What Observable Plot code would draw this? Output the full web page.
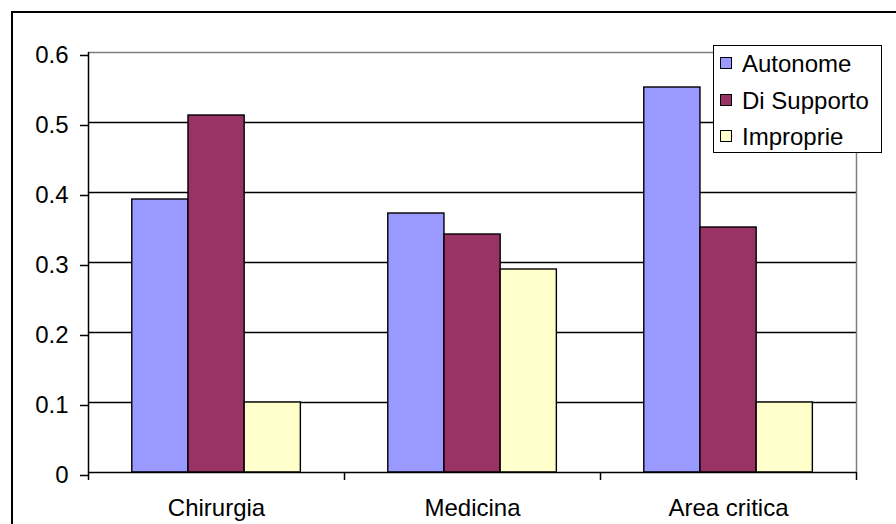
<!DOCTYPE html>
<html>
<head>
<meta charset="utf-8">
<script src="https://cdn.jsdelivr.net/npm/d3@7"></script>
<script src="https://cdn.jsdelivr.net/npm/@observablehq/plot@0.6"></script>
<style>
  html, body { margin: 0; padding: 0; background: #fff; }
  #chart {
    position: relative; width: 896px; height: 524px; overflow: hidden;
    font-family: "Liberation Sans", Arial, sans-serif; background: #fff;
  }
  #frame {
    position: absolute; left: 11px; top: 11px; width: 920px; height: 600px;
    border: 2px solid #000; box-sizing: border-box; pointer-events: none;
  }
  #plot { position: absolute; left: 0; top: 0; }
  #legend {
    position: absolute; left: 713px; top: 45px; width: 169px; height: 108px;
    border: 1.5px solid #000; background: #fff; box-sizing: border-box;
  }
  .item { position: absolute; left: 6px; height: 30px; display: flex; align-items: center; font-size: 24px; color: #000; }
  .swatch { width: 12px; height: 12px; border: 1.5px solid #000; box-sizing: border-box; margin-right: 10px; margin-top: -2px; }
</style>
</head>
<body>
<div id="chart">
  <div id="frame"></div>
  <div id="plot"></div>
  <div id="legend"></div>
</div>
<script>
// Reparti e tipologie di attività
const categories = ["Chirurgia", "Medicina", "Area critica"];
const series = ["Autonome", "Di Supporto", "Improprie"];
const autonome = [0.39, 0.37, 0.55];
const diSupporto = [0.51, 0.34, 0.35];
const improprie = [0.10, 0.29, 0.10];
const colors = ["#9999FF", "#993366", "#FFFFCC"];
const yTicks = [0, 0.1, 0.2, 0.3, 0.4, 0.5, 0.6];

const values = [autonome, diSupporto, improprie];
const rows = categories.flatMap((category, ci) =>
  series.map((s, si) => ({ category, ci, series: s, si, value: values[si][ci] }))
);

// each category occupies one unit on x; bars are grouped in the middle of it
const outerGap = 0.171;
const barWidth = 0.2195;

const chart = Plot.plot({
  width: 896,
  height: 524,
  marginLeft: 88,
  marginRight: 40,
  marginTop: 52,
  marginBottom: 52,
  style: { fontFamily: "'Liberation Sans', Arial, sans-serif", fontSize: "24px", background: "transparent", color: "#000" },
  x: { type: "linear", domain: [0, categories.length] },
  y: { domain: [0, 0.6] },
  color: { domain: series, range: colors },
  marks: [
    Plot.ruleY(yTicks.filter(v => v > 0 && v < 0.6), { stroke: "#000", strokeWidth: 1.3 }),
    Plot.ruleY([0.6], { stroke: "#808080", strokeWidth: 1.5 }),
    Plot.ruleX([categories.length], { y1: 0, y2: 0.6, stroke: "#808080", strokeWidth: 1.5 }),
    Plot.rectY(rows, {
      x1: d => d.ci + outerGap + d.si * barWidth,
      x2: d => d.ci + outerGap + (d.si + 1) * barWidth,
      y1: 0,
      y2: "value",
      fill: "series",
      stroke: "#000",
      strokeWidth: 1.4
    }),
    Plot.ruleX([0], { stroke: "#000", strokeWidth: 1.5 }),
    Plot.ruleY([0], { stroke: "#000", strokeWidth: 1.5 }),
    Plot.axisY({
      ticks: yTicks, tickSize: 8, tickPadding: 12, dy: 3, label: null,
      tickFormat: d => String(+d.toFixed(1)), stroke: "#000", strokeWidth: 1.5, strokeOpacity: 1
    }),
    Plot.axisX({
      ticks: d3.range(categories.length + 1), tickSize: 8, tickFormat: () => "", label: null,
      stroke: "#000", strokeWidth: 1.5, strokeOpacity: 1
    }),
    Plot.axisX({
      ticks: categories.map((c, i) => i + 0.5), tickSize: 0, tickPadding: 26, label: null,
      tickFormat: v => categories[Math.floor(v)]
    })
  ]
});
document.getElementById("plot").appendChild(chart);

// legend box
const legend = document.getElementById("legend");
series.forEach((s, i) => {
  const item = document.createElement("div");
  item.className = "item";
  item.style.top = (3 + i * 36.5) + "px";
  const sw = document.createElement("div");
  sw.className = "swatch";
  sw.style.background = colors[i];
  const label = document.createElement("span");
  label.textContent = s;
  item.appendChild(sw);
  item.appendChild(label);
  legend.appendChild(item);
});
</script>
</body>
</html>
